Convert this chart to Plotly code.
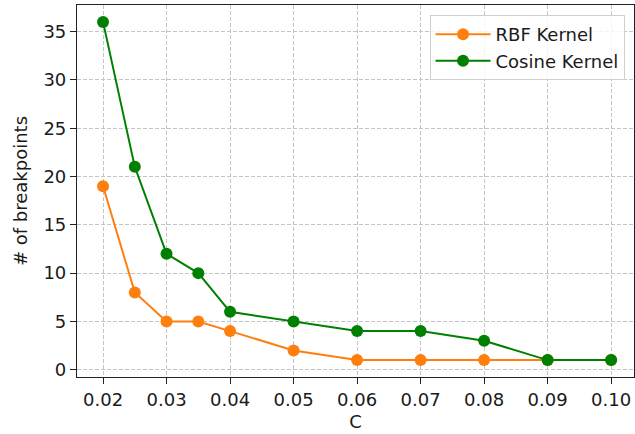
import plotly.graph_objects as go

# Regularisation parameter C and number of detected breakpoints per kernel
c_values = [0.02, 0.025, 0.03, 0.035, 0.04, 0.05, 0.06, 0.07, 0.08, 0.09, 0.10]
rbf_breakpoints = [19, 8, 5, 5, 4, 2, 1, 1, 1, 1, 1]
cosine_breakpoints = [36, 21, 12, 10, 6, 5, 4, 4, 3, 1, 1]

x_ticks = [0.02, 0.03, 0.04, 0.05, 0.06, 0.07, 0.08, 0.09, 0.10]
x_tick_labels = ["0.02", "0.03", "0.04", "0.05", "0.06", "0.07", "0.08", "0.09", "0.10"]
y_ticks = [0, 5, 10, 15, 20, 25, 30, 35]

FONT = "DejaVu Sans"
TEXT = "#1a1a1a"
FS = 18

fig = go.Figure()
fig.add_trace(go.Scatter(
    x=c_values, y=rbf_breakpoints, mode="lines+markers", name="RBF Kernel",
    line=dict(color="#ff7f0e", width=2), marker=dict(size=12, color="#ff7f0e"),
))
fig.add_trace(go.Scatter(
    x=c_values, y=cosine_breakpoints, mode="lines+markers", name="Cosine Kernel",
    line=dict(color="#008000", width=2), marker=dict(size=12, color="#008000"),
))

axis_common = dict(
    showline=True, linecolor="#222", linewidth=1.2, mirror=True,
    ticks="outside", ticklen=6, tickwidth=1.2, tickcolor="#222",
    showgrid=True, gridcolor="#c4c4c4", griddash="4px,2px", gridwidth=1,
    zeroline=False, tickfont=dict(family=FONT, size=FS, color=TEXT),
)

fig.update_layout(
    width=635, height=434,
    margin=dict(l=77, r=1, t=5, b=57),
    plot_bgcolor="white", paper_bgcolor="white",
    font=dict(family=FONT, size=FS, color=TEXT),
    xaxis=dict(
        axis_common, range=[0.0159, 0.1036], tickvals=x_ticks, ticktext=x_tick_labels,
        title=dict(text="C", font=dict(family=FONT, size=FS, color=TEXT), standoff=6),
    ),
    yaxis=dict(
        axis_common, range=[-0.75, 37.75], tickvals=y_ticks,
        title=dict(text="# of breakpoints", font=dict(family=FONT, size=FS, color=TEXT), standoff=11),
    ),
    legend=dict(
        x=0.983, y=0.973, xanchor="right", yanchor="top",
        bgcolor="rgba(255,255,255,0.8)", bordercolor="#d0d0d0", borderwidth=1,
        font=dict(family=FONT, size=FS, color=TEXT), itemwidth=55,
        tracegroupgap=4,
    ),
)

fig.write_html("out.html")
